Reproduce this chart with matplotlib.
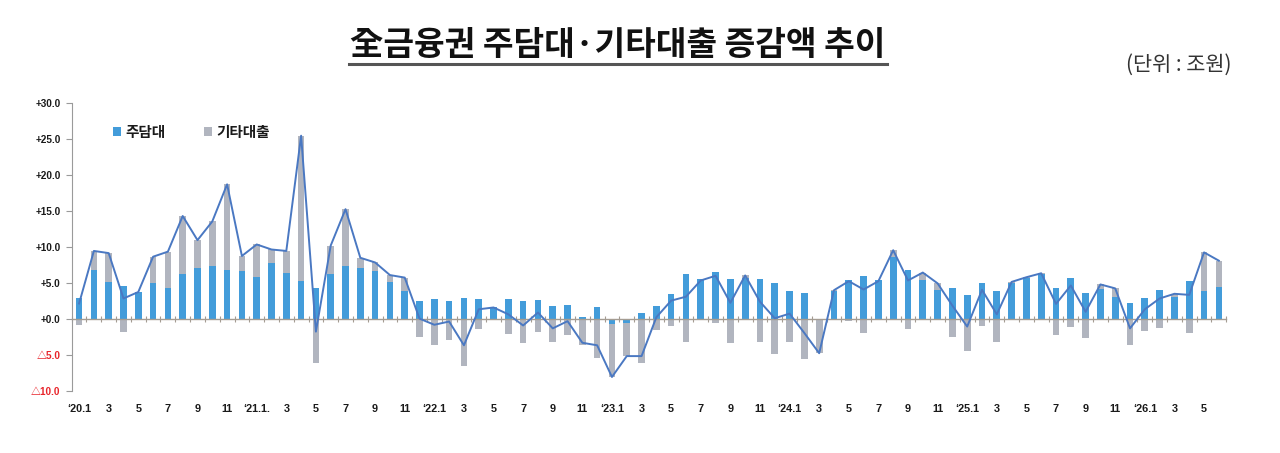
import numpy as np
import matplotlib
matplotlib.use("Agg")
import matplotlib.pyplot as plt

plt.rcParams['font.family'] = ['Liberation Sans', 'Noto Sans CJK KR', 'DejaVu Sans']

# ---------------- data (조원) ----------------
mortgage = [
    3.0, 6.9, 5.2, 4.6, 3.8, 5.0, 4.3, 6.25, 7.2, 7.4, 6.85, 6.7,        # 2020
    5.9, 7.8, 6.5, 5.3, 4.4, 6.35, 7.45, 7.2, 6.7, 5.2, 3.9, 2.5,        # 2021
    2.8, 2.55, 2.9, 2.8, 1.65, 2.8, 2.5, 2.75, 1.85, 1.95, 0.35, 1.7,    # 2022
    -0.7, -0.55, 0.9, 1.8, 3.5, 6.35, 5.55, 6.6, 5.65, 5.8, 5.55, 5.0,   # 2023
    4.0, 3.6, 0.0, 4.0, 5.5, 6.0, 5.4, 8.7, 6.8, 5.45, 4.05, 4.35,       # 2024
    3.35, 5.0, 3.9, 5.1, 5.8, 6.35, 4.35, 5.7, 3.7, 4.2, 3.15, 2.3,      # 2025
    2.95, 4.05, 3.05, 5.35, 3.95, 4.5,                                   # 2026
]
other = [
    -0.8, 2.6, 4.0, -1.7, 0.0, 3.7, 5.1, 8.1, 3.8, 6.2, 11.9, 2.1,
    4.5, 1.9, 3.0, 20.2, -6.1, 3.9, 7.85, 1.35, 1.2, 0.95, 1.9, -2.4,
    -3.55, -2.85, -6.5, -1.4, 0.0, -2.1, -3.35, -1.8, -3.1, -2.2, -3.6, -5.3,
    -7.3, -4.55, -6.0, -1.5, -0.9, -3.2, -0.15, -0.55, -3.35, 0.3, -3.1, -4.85,
    -3.2, -5.5, -4.7, 0.05, -0.2, -1.85, -0.1, 0.9, -1.4, 1.05, 0.95, -2.45,
    -4.35, -0.9, -3.2, 0.1, 0.05, 0.05, -2.2, -1.0, -2.65, 0.65, 1.15, -3.55,
    -1.55, -1.15, 0.5, -1.95, 5.35, 3.65,
]
start_year = 2020
n_months = len(mortgage)

month_labels = []
for i in range(n_months):
    y = start_year + i // 12
    m = i % 12 + 1
    if m == 1:
        month_labels.append("\u2018%02d.1" % (y % 100) + ("." if y == 2021 else ""))
    elif m % 2 == 1:
        month_labels.append(str(m))
    else:
        month_labels.append("")

y_ticks = [30, 25, 20, 15, 10, 5, 0, -5, -10]
y_tick_labels = ["+30.0", "+25.0", "+20.0", "+15.0", "+10.0", "+5.0", "+0.0", "\u25b35.0", "\u25b310.0"]

series_names = ["주담대", "기타대출"]
title = "全금융권 주담대·기타대출 증감액 추이"
unit = "(단위 : 조원)"

# ---------------- plot ----------------
blue = "#439CDA"
grey = "#B1B5BF"
line_c = "#4A78C2"

m_arr = np.array(mortgage)
o_arr = np.array(other)
total = m_arr + o_arr
x = np.arange(n_months)
o_bottom = np.where(o_arr >= 0, np.maximum(m_arr, 0), np.minimum(m_arr, 0))

fig = plt.figure(figsize=(12.8, 4.53), dpi=100)
ax = fig.add_axes([0.056, 0.136, 0.902, 0.636])

bw = 0.45
b1 = ax.bar(x, m_arr, width=bw, color=blue, label=series_names[0], zorder=2)
b2 = ax.bar(x, o_arr, width=bw, bottom=o_bottom, color=grey, label=series_names[1], zorder=2)
ax.plot(x, total, color=line_c, lw=1.4, zorder=3)

ax.set_xlim(-0.5, n_months - 0.5)
ax.set_ylim(-10, 30)

for s in ['top', 'right']:
    ax.spines[s].set_visible(False)
ax.spines['left'].set_color('#9a9a9a')
ax.spines['bottom'].set_position(('data', 0))
ax.spines['bottom'].set_color('#a49c92')
ax.spines['bottom'].set_linewidth(1.0)

ax.set_xticks(np.arange(-0.5, n_months, 1.0))
ax.tick_params(axis='x', direction='inout', length=4, color='#a49c92', labelbottom=False)

ax.set_yticks(y_ticks)
ax.set_yticklabels(y_tick_labels)
ax.tick_params(axis='y', direction='out', length=4, color='#9a9a9a', labelsize=7.2, pad=4)
for lbl, v in zip(ax.get_yticklabels(), y_ticks):
    lbl.set_fontweight('bold')
    lbl.set_color('#e8242a' if v < 0 else '#1a1a1a')

sec = ax.secondary_xaxis('bottom')
sec.set_xticks(x)
sec.set_xticklabels(month_labels)
sec.spines['bottom'].set_visible(False)
sec.tick_params(axis='x', length=0, pad=9, labelsize=7.8)
for lbl in sec.get_xticklabels():
    lbl.set_fontweight('bold')
    lbl.set_color('#1a1a1a')

leg = ax.legend(handles=[b1, b2], loc='upper left', bbox_to_anchor=(0.024, 0.975),
                ncol=2, frameon=False, handlelength=0.55, handleheight=0.55,
                handletextpad=0.35, columnspacing=2.6,
                prop={'family': ['Noto Sans CJK KR'], 'weight': 'bold', 'size': 10.5})
for t in leg.get_texts():
    t.set_color('#1a1a1a')

fig.text(618 / 1280, 1 - 45 / 453, title, ha='center', va='center', fontsize=24,
         fontweight='heavy', family=['Noto Sans CJK KR', 'DejaVu Sans'], color='#111111')
fig.add_artist(plt.Line2D([349 / 1280, 887 / 1280], [1 - 63.5 / 453, 1 - 63.5 / 453],
                          color='#555555', lw=2.2))
fig.text(1232 / 1280, 1 - 65 / 453, unit, ha='right', va='center', fontsize=15,
         family=['Noto Sans CJK KR', 'DejaVu Sans'], color='#333333')

fig.savefig("out.png", dpi=100)
